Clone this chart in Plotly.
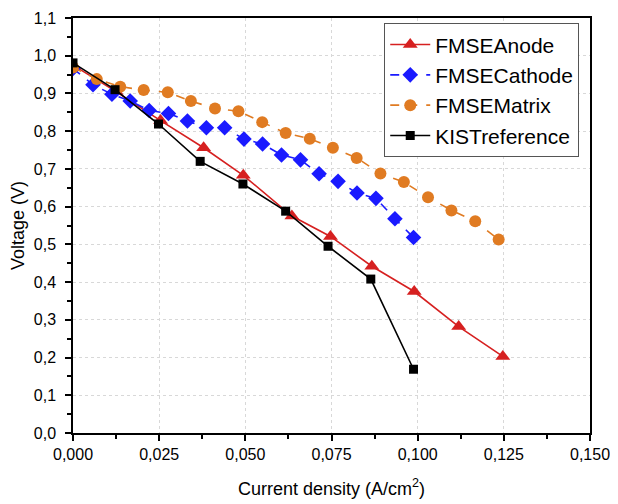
import plotly.graph_objects as go

anode_x = [0.0, 0.0125, 0.0254, 0.0379, 0.0494, 0.0635, 0.0747, 0.0867, 0.0990, 0.1119, 0.1247]
anode_y = [0.975, 0.905, 0.828, 0.756, 0.683, 0.575, 0.521, 0.442, 0.375, 0.282, 0.203]

cathode_x = [0.0, 0.0058, 0.0113, 0.0166, 0.0221, 0.0277, 0.0332, 0.0387, 0.0440, 0.0496,
             0.0550, 0.0605, 0.0660, 0.0714, 0.0769, 0.0824, 0.0879, 0.0934, 0.0988]
cathode_y = [0.966, 0.923, 0.898, 0.880, 0.855, 0.847, 0.827, 0.809, 0.809, 0.779,
             0.766, 0.737, 0.724, 0.687, 0.667, 0.636, 0.622, 0.568, 0.518]

matrix_x = [0.0, 0.0069, 0.0137, 0.0205, 0.0275, 0.0342, 0.0412, 0.0480, 0.0549, 0.0617,
            0.0687, 0.0754, 0.0823, 0.0892, 0.0960, 0.1030, 0.1098, 0.1167, 0.1235]
matrix_y = [0.969, 0.938, 0.918, 0.909, 0.903, 0.880, 0.860, 0.853, 0.824, 0.795,
            0.780, 0.756, 0.729, 0.688, 0.665, 0.625, 0.590, 0.561, 0.513]

kist_x = [0.0, 0.0122, 0.0248, 0.0369, 0.0493, 0.0617, 0.0740, 0.0864, 0.0988]
kist_y = [0.981, 0.910, 0.819, 0.720, 0.660, 0.588, 0.495, 0.408, 0.169]

FONT = "Liberation Sans, Arial, sans-serif"

fig = go.Figure()
fig.add_trace(go.Scatter(x=anode_x, y=anode_y, name="FMSEAnode", mode="lines+markers",
                         line=dict(color="#d62020", width=1.6),
                         marker=dict(symbol="triangle-up", size=13, color="#d62020")))
fig.add_trace(go.Scatter(x=cathode_x, y=cathode_y, name="FMSECathode", mode="lines+markers",
                         line=dict(color="#1a1aff", width=1.6, dash="dash"),
                         marker=dict(symbol="diamond", size=12, color="#1a1aff")))
fig.add_trace(go.Scatter(x=matrix_x, y=matrix_y, name="FMSEMatrix", mode="lines+markers",
                         line=dict(color="#e07b22", width=1.6, dash="dash"),
                         marker=dict(symbol="circle", size=12, color="#e07b22")))
fig.add_trace(go.Scatter(x=kist_x, y=kist_y, name="KISTreference", mode="lines+markers",
                         line=dict(color="#000000", width=1.6),
                         marker=dict(symbol="square", size=9, color="#000000")))

axis_common = dict(
    showline=True, linecolor="black", linewidth=1.5, mirror=True,
    ticks="outside", ticklen=6, tickwidth=1.5, tickcolor="black",
    showgrid=True, gridcolor="#d8d8d8", griddash="dot", gridwidth=1,
    zeroline=False, tickfont=dict(size=16, color="black", family=FONT),
    ticklabeloverflow="allow",
)

fig.update_xaxes(range=[0, 0.15], dtick=0.025, tick0=0, tickformat=".3f", automargin=True,
                 title=dict(text="Current density (A/cm<sup>2</sup>)", font=dict(size=18, color="black", family=FONT), standoff=20),
                 minor=dict(dtick=0.0125, ticks="outside", ticklen=4, tickwidth=1.5, tickcolor="black", showgrid=False),
                 **axis_common)
fig.update_yaxes(range=[0, 1.1], dtick=0.1, tick0=0, tickformat=".1f", ticklabelstandoff=6, automargin=False,
                 title=dict(text="Voltage (V)", font=dict(size=18, color="black", family=FONT)),
                 minor=dict(dtick=0.05, ticks="outside", ticklen=4, tickwidth=1.5, tickcolor="black", showgrid=False),
                 **axis_common)

# page body has an 8px default margin, so the figure is sized/offset to compensate
fig.update_layout(
    width=610, height=496,
    margin=dict(l=65, r=25, t=8, b=69),
    separators=",.",
    plot_bgcolor="white", paper_bgcolor="white",
    font=dict(family=FONT, color="black"),
    legend=dict(x=0.602, y=0.987, xanchor="left", yanchor="top",
                bgcolor="white", bordercolor="#555555", borderwidth=1,
                font=dict(size=21, family=FONT, color="black"),
                tracegroupgap=0, itemwidth=40),
)

fig.write_html("out.html")
